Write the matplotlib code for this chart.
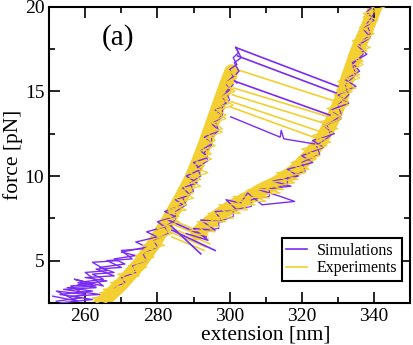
import numpy as np
import matplotlib
matplotlib.use("Agg")
from matplotlib import pyplot as plt
from matplotlib.lines import Line2D

plt.rcParams['font.family'] = ['Liberation Serif', 'DejaVu Serif']

PURPLE = '#7a2cf2'
YELLOW = '#f3cf32'

# (extension [nm], force [pN])
# centre lines of the experimental band
exp_up_c = [(264, 2.4), (270, 3.6), (275, 4.8), (279, 6.0), (283, 7.4), (286, 8.5),
            (289, 9.7), (291, 10.7), (293, 11.8), (295, 13.0), (297, 14.2),
            (299, 15.4), (300.5, 16.2)]
exp_dn_c = [(341, 20.3), (340, 19.8), (338, 18.7), (335.5, 17.5), (333, 16.0),
            (330.8, 14.5), (328.5, 13.3), (325.3, 12.1), (322, 11.2), (318, 10.3),
            (313, 9.6), (309, 9.2), (305, 8.7), (300.5, 8.2), (297, 7.7),
            (294, 7.2), (291, 6.6)]

# jagged experimental traces
exp_up = [(263, 2.5), (268, 2.9), (264, 3.1), (270, 3.4), (267, 3.7), (272, 3.9),
          (269, 4.2), (275, 4.4), (272, 4.7), (277, 5.0), (274, 5.3), (279, 5.6),
          (276, 5.9), (281, 6.3), (279, 6.6), (284, 6.9), (281, 7.3), (286, 7.6),
          (283, 8.0), (288, 8.3), (285, 8.7), (290, 9.0), (287, 9.4), (292, 9.8),
          (289, 10.2), (293, 10.6), (290, 11.0), (295, 11.3), (292, 11.7), (296, 12.1),
          (294, 12.5), (298, 12.8), (295, 13.2), (299, 13.6), (296, 14.0), (300, 14.3),
          (298, 14.7), (301, 15.1), (299, 15.5), (302, 15.8), (300, 16.2)]
exp_up2 = [(266, 2.5), (262, 2.8), (269, 3.0), (265, 3.3), (272, 3.6), (268, 3.8),
           (275, 4.1), (271, 4.4), (277, 4.6), (273, 4.9), (279, 5.2), (276, 5.6),
           (282, 5.9), (278, 6.2), (284, 6.6), (280, 6.9), (286, 7.3), (282, 7.7),
           (288, 8.0), (284, 8.3), (290, 8.7), (286, 9.1), (292, 9.4), (288, 9.8),
           (294, 10.2), (289, 10.6), (295, 11.0), (291, 11.4), (296, 11.8), (293, 12.2),
           (298, 12.6), (294, 13.0), (299, 13.4), (296, 13.8), (301, 14.2), (297, 14.6),
           (301.5, 15.0), (298, 15.4), (302, 15.9), (299.5, 16.3)]
exp_dn = [(342, 20.6), (338, 20.2), (341, 19.8), (337, 19.4), (340, 19.0), (336, 18.6),
          (339, 18.2), (335, 17.8), (338, 17.4), (334, 17.0), (337, 16.6), (333, 16.2),
          (336, 15.8), (331, 15.4), (334, 15.0), (330, 14.6), (333, 14.2), (328, 13.8),
          (331, 13.4), (326, 13.0), (329, 12.6), (324, 12.2), (327, 11.8), (321, 11.4),
          (324, 11.0), (318, 10.6), (321, 10.2), (314, 9.9), (318, 9.6), (310, 9.3),
          (314, 9.0), (306, 8.9), (310, 8.5), (302, 8.5), (305, 8.0), (298, 8.0),
          (301, 7.5), (294, 7.6), (297, 7.0), (291, 7.1), (294, 6.5), (290, 6.6)]
exp_dn2 = [(339, 20.5), (343, 20.0), (337, 19.6), (341, 19.2), (336, 18.8), (340, 18.4),
           (334, 18.0), (339, 17.6), (333, 17.2), (337, 16.8), (332, 16.4), (336, 16.0),
           (330, 15.6), (335, 15.2), (329, 14.8), (333, 14.4), (327, 14.0), (331, 13.6),
           (325, 13.2), (330, 12.8), (323, 12.4), (328, 12.0), (320, 11.6), (325, 11.2),
           (317, 10.8), (322, 10.4), (313, 10.2), (319, 9.8), (309, 9.6), (315, 9.2),
           (305, 9.2), (311, 8.7), (301, 8.8), (307, 8.3), (297, 8.3), (303, 7.8),
           (294, 7.8), (299, 7.3), (291, 7.3), (296, 6.7), (289, 6.8)]
# unfolding rips (x0, f0, x1, f1)
exp_rips = [(302.0, 16.3, 329.5, 14.4), (301.2, 15.2, 327.5, 13.5),
            (300.8, 14.8, 326.5, 13.1), (300.4, 14.4, 325.5, 12.6),
            (300.0, 14.1, 324.5, 12.2)]
# refolding jumps in the lower loop
exp_loop = [(282.0, 7.6, 293.0, 6.6), (282.5, 7.3, 294.0, 6.3), (283.0, 7.0, 294.5, 6.0),
            (283.5, 6.7, 293.5, 5.8), (284.0, 6.4, 293.0, 5.6)]

sim_up = [(252, 2.6), (259, 2.8), (253, 3.0), (262, 3.2), (255, 3.4), (263, 3.5),
          (258, 3.7), (265, 3.9), (262, 4.2), (268, 4.3), (264, 4.6), (271, 4.8),
          (268, 5.1), (274, 5.3), (270, 5.5), (277, 5.8), (274, 6.1), (280, 6.4),
          (277, 6.7), (282, 7.0), (280, 7.3), (285, 7.6), (282, 7.9), (287, 8.3),
          (285, 8.6), (289, 8.9), (287, 9.3), (291, 9.6), (288, 10.0), (292, 10.4),
          (290, 10.8), (294, 11.1), (292, 11.5), (295, 11.9), (293, 12.3), (297, 12.7),
          (295, 13.1), (298, 13.5), (296, 13.9), (299, 14.3), (298, 14.7), (300, 15.1),
          (299, 15.5), (301, 15.9), (300, 16.3), (302, 16.6), (301, 17.0), (302.5, 17.3),
          (301.7, 17.6)]
sim_low = [(253, 2.5), (262, 2.7), (256, 2.9), (264, 3.0), (254, 3.3), (263, 3.4),
           (258, 3.6), (266, 3.8), (260, 4.0), (268, 4.1), (263, 4.5), (270, 4.6),
           (266, 5.0), (273, 5.1), (270, 5.6), (276, 5.7)]
sim_low2 = [(251, 2.9), (258, 2.6), (252, 3.2), (260, 3.0), (256, 3.5), (262, 3.6),
            (257, 3.9), (265, 3.5), (260, 4.3), (266, 4.4), (262, 4.9), (269, 5.0)]
sim_top = [(301.7, 17.6), (303.2, 17.0), (301.3, 16.7), (302.6, 16.2), (300.8, 15.8),
           (302.0, 15.5)]
sim_mid_up = [(268, 3.4), (271, 3.7), (270, 4.0), (274, 4.3), (273, 4.7), (277, 5.0),
              (276, 5.4), (280, 5.8), (279, 6.2), (283, 6.6), (282, 7.0), (285, 7.4),
              (285, 7.9), (288, 8.3), (287, 8.7), (290, 9.1), (289, 9.6), (292, 10.0),
              (291, 10.5), (294, 10.9), (293, 11.4), (295, 11.8), (295, 12.3), (297, 12.7),
              (296, 13.2), (298, 13.6), (298, 14.1), (300, 14.5), (299, 15.0), (301, 15.4)]
sim_dn = [(340.5, 20.2), (338, 19.7), (340, 19.2), (337, 18.7), (339, 18.2), (335.5, 17.7),
          (338, 17.2), (334, 16.7), (336, 16.2), (332, 15.7), (335, 15.3), (330, 14.8),
          (333, 14.3), (328, 13.9), (331, 13.4), (326, 13.0), (329, 12.5), (323, 12.1),
          (326, 11.7), (320, 11.2), (323, 10.8), (316, 10.4), (319, 10.0), (312, 9.7),
          (317, 9.4), (308, 9.2), (314, 8.8), (318, 8.5), (309, 8.3), (305, 9.0),
          (303, 8.4), (299, 8.6), (302, 8.0), (296, 7.9), (298, 7.3), (292, 7.4),
          (296, 6.8), (290, 6.9), (294, 6.2), (288, 6.6)]
sim_mid_dn = [(340, 19.6), (338, 19.0), (339, 18.4), (336, 17.8), (337, 17.2), (334, 16.6),
              (335, 16.0), (332, 15.4), (333, 14.8), (330, 14.2), (331, 13.6), (327, 13.0),
              (328, 12.4), (324, 11.8), (325, 11.3), (320, 10.8), (321, 10.3), (316, 9.9),
              (316, 9.5), (311, 9.2), (311, 8.8), (306, 8.6), (306, 8.2), (301, 8.0),
              (301, 7.6), (297, 7.3), (297, 6.9), (293, 6.8)]
sim_rips = [(301.7, 17.6, 330.0, 15.3), (302.2, 17.1, 329.6, 14.9),
            (301.5, 15.6, 327.8, 13.6)]
sim_rip_low = [(300.3, 13.5), (314.0, 12.3), (314.3, 12.7), (315.0, 12.2), (323.5, 11.9)]
sim_loop = [(283.5, 7.1, 292.0, 5.4), (284.0, 6.8, 296.0, 5.6), (283.0, 7.4, 293.5, 6.4)]


def xy(pts):
    a = np.array(pts)
    return a[:, 0], a[:, 1]


fig = plt.figure(figsize=(4.13, 3.45), dpi=100)
ax = fig.add_axes([0.119, 0.122, 0.874, 0.858])

# broad experimental band
for c in (exp_up_c, exp_dn_c):
    x, f = xy(c)
    ax.plot(x, f, color=YELLOW, lw=10, solid_capstyle='round', solid_joinstyle='round', zorder=1)

for x0, f0, x1, f1 in exp_rips + exp_loop:
    ax.plot([x0, x1], [f0, f1], color=YELLOW, lw=1.2, zorder=2)

for tr in (sim_mid_up, sim_mid_dn):
    x, f = xy(tr)
    ax.plot(x, f, color=PURPLE, lw=0.8, zorder=2)
for tr in (sim_up, sim_low, sim_low2, sim_top, sim_dn, sim_rip_low):
    x, f = xy(tr)
    ax.plot(x, f, color=PURPLE, lw=1.0, zorder=3)
for x0, f0, x1, f1 in sim_rips + sim_loop:
    ax.plot([x0, x1], [f0, f1], color=PURPLE, lw=1.2, zorder=3)

for tr in (exp_up, exp_up2, exp_dn, exp_dn2):
    x, f = xy(tr)
    ax.plot(x, f, color=YELLOW, lw=0.9, zorder=4)

ax.set_xlim(250, 350)
ax.set_ylim(2.5, 20)
ax.set_xticks([260, 280, 300, 320, 340])
ax.set_xticks(np.arange(250, 351, 10), minor=True)
ax.set_yticks([5, 10, 15, 20])
ax.set_yticks(np.arange(2.5, 20.1, 2.5), minor=True)
ax.tick_params(which='both', direction='in', top=True, right=True, width=1.2, labelsize=14)
ax.tick_params(which='major', length=8)
ax.tick_params(which='minor', length=4.5)
for s in ax.spines.values():
    s.set_linewidth(1.5)

ax.set_xlabel('extension [nm]', fontsize=15.5, labelpad=0)
ax.xaxis.set_label_coords(0.60, -0.075)
ax.set_ylabel('force [pN]', fontsize=15.5, labelpad=1)

ax.text(0.145, 0.895, '(a)', transform=ax.transAxes, fontsize=21, va='center', ha='left')

handles = [Line2D([], [], color=PURPLE, lw=1.2), Line2D([], [], color=YELLOW, lw=1.2)]
leg = ax.legend(handles, ['Simulations', 'Experiments'], loc='lower right',
                bbox_to_anchor=(0.978, 0.074), borderaxespad=0, fancybox=False,
                fontsize=11.5, handlelength=1.3, handletextpad=0.6, labelspacing=0.1,
                borderpad=0.3, framealpha=1)
leg.get_frame().set_edgecolor('black')
leg.get_frame().set_linewidth(1.5)

fig.savefig('out.png', dpi=100)
